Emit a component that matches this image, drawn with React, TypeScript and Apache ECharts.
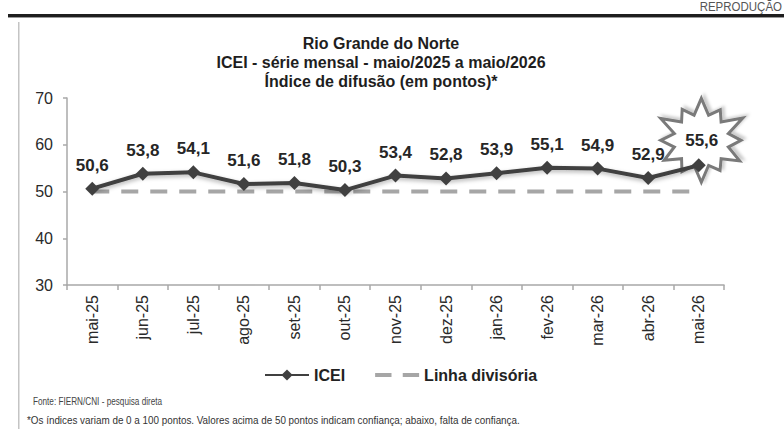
import React, { useEffect, useRef } from "react";
import * as echarts from "echarts";

const categories = ["mai-25", "jun-25", "jul-25", "ago-25", "set-25", "out-25", "nov-25", "dez-25", "jan-26", "fev-26", "mar-26", "abr-26", "mai-26"];
const iceiValues = [50.6, 53.8, 54.1, 51.6, 51.8, 50.3, 53.4, 52.8, 53.9, 55.1, 54.9, 52.9, 55.6];
const divisoriaValues = [50, 50, 50, 50, 50, 50, 50, 50, 50, 50, 50, 50, 50];
const yTicks = { min: 30, max: 70, interval: 10 };

const titleLines = [
  "Rio Grande do Norte",
  "ICEI - série mensal - maio/2025 a maio/2026",
  "Índice de difusão (em pontos)*",
];

const fmt = (v: number) => v.toFixed(1).replace(".", ",");

// starburst outline (decorative shape, unit box 0..100)
const starRadii = [1, 0.84, 1.06, 0.88, 0.98, 0.83, 1.0, 0.86, 0.95, 0.9, 1.04, 0.85];
function starPath(): string {
  const n = starRadii.length;
  const pts: string[] = [];
  for (let i = 0; i < n; i++) {
    const a0 = (-90 + (i * 360) / n) * (Math.PI / 180);
    const a1 = (-90 + ((i + 0.5) * 360) / n) * (Math.PI / 180);
    const ro = 50 * starRadii[i];
    const ri = 31;
    pts.push(`${(50 + ro * Math.cos(a0)).toFixed(2)} ${(50 + ro * Math.sin(a0)).toFixed(2)}`);
    pts.push(`${(50 + ri * Math.cos(a1)).toFixed(2)} ${(50 + ri * Math.sin(a1)).toFixed(2)}`);
  }
  return "path://M" + pts.join(" L") + " Z";
}

const SANS = "'Liberation Sans', Arial, sans-serif";

export default function App() {
  const ref = useRef<HTMLDivElement>(null);
  useEffect(() => {
    document.body.style.margin = "0";
    if (!ref.current) return;
    const chart = echarts.init(ref.current, undefined, { renderer: "svg" });
    const last = iceiValues.length - 1;
    chart.setOption({
      animation: false,
      backgroundColor: "#ffffff",
      grid: { left: 67, right: 60, top: 98, bottom: 144 },
      xAxis: {
        type: "category",
        data: categories,
        boundaryGap: true,
        axisLine: { lineStyle: { color: "#a8a8a8", width: 1.5 } },
        axisTick: { show: true, length: 5, lineStyle: { color: "#a8a8a8", width: 1.5 } },
        axisLabel: { rotate: 90, margin: 10, fontSize: 16, color: "#2a2a2a", fontFamily: SANS },
      },
      yAxis: {
        type: "value",
        min: yTicks.min,
        max: yTicks.max,
        interval: yTicks.interval,
        splitLine: { show: false },
        axisLine: { show: true, lineStyle: { color: "#a8a8a8", width: 1.5 } },
        axisTick: { show: true, length: 4, lineStyle: { color: "#a8a8a8", width: 1.5 } },
        axisLabel: { margin: 14, fontSize: 16, color: "#2a2a2a", fontFamily: SANS },
      },
      legend: {
        top: 362,
        left: 259,
        itemWidth: 44,
        itemHeight: 14,
        itemGap: 30,
        textStyle: { fontSize: 16, fontWeight: "bold", color: "#222", fontFamily: SANS },
        data: [
          { name: "ICEI" },
          {
            name: "Linha divisória",
            icon: "path://M0 0 H16 V4 H0 Z M27 0 H43 V4 H27 Z",
            itemStyle: { color: "#a6a6a6" },
          },
        ],
      },
      series: [
        {
          name: "Linha divisória",
          type: "line",
          data: divisoriaValues,
          symbol: "none",
          z: 1,
          lineStyle: { color: "#a6a6a6", width: 4, type: [17, 12] },
          itemStyle: { color: "#a6a6a6" },
        },
        {
          name: "ICEI",
          type: "line",
          z: 3,
          data: iceiValues.map((v, i) => (i === last ? { value: v, label: { show: false } } : v)),
          symbol: "diamond",
          symbolSize: 14,
          lineStyle: { color: "#404040", width: 4, shadowBlur: 4, shadowColor: "rgba(0,0,0,0.3)", shadowOffsetY: 2 },
          itemStyle: { color: "#404040" },
          label: {
            show: true,
            position: "top",
            distance: 8,
            fontSize: 17,
            fontWeight: "bold",
            color: "#262626",
            fontFamily: SANS,
            formatter: (p: any) => fmt(p.value),
          },
          markPoint: {
            z: 1,
            symbol: starPath(),
            symbolSize: [82, 84],
            symbolOffset: [3, -25],
            itemStyle: {
              color: "#ffffff",
              borderColor: "#7a7a7a",
              borderWidth: 3,
              shadowBlur: 3,
              shadowColor: "rgba(0,0,0,0.2)",
              shadowOffsetX: 3,
              shadowOffsetY: -2,
            },
            label: {
              show: true,
              fontSize: 17,
              fontWeight: "bold",
              color: "#262626",
              fontFamily: SANS,
              formatter: () => fmt(iceiValues[last]),
            },
            data: [{ coord: [categories[last], iceiValues[last]], value: iceiValues[last] }],
          },
        },
      ],
      graphic: [
        { type: "rect", shape: { x: 8, y: 14, width: 776, height: 3 }, style: { fill: "#1e1e1e" }, silent: true },
        { type: "rect", shape: { x: 8, y: 17, width: 776, height: 1 }, style: { fill: "#9a9a9a" }, silent: true },
        { type: "rect", shape: { x: 18, y: 22, width: 1.5, height: 407 }, style: { fill: "#c4c4c4" }, silent: true },
        {
          type: "text",
          x: 782,
          y: 7,
          scaleX: 0.92,
          style: { text: "REPRODUÇÃO", fontSize: 12.5, fontFamily: SANS, fill: "#555", textAlign: "right", textVerticalAlign: "middle" },
          silent: true,
        },
        ...titleLines.map((t, i) => ({
          type: "text",
          x: 381,
          y: 43 + i * 19,
          style: {
            text: t,
            fontSize: 16,
            fontWeight: "bold",
            fontFamily: SANS,
            fill: "#1e1e1e",
            textAlign: "center",
            textVerticalAlign: "middle",
          },
          silent: true,
        })),
        {
          type: "text",
          x: 33,
          y: 402,
          scaleX: 0.82,
          style: { text: "Fonte: FIERN/CNI - pesquisa direta", fontSize: 10, fontFamily: SANS, fill: "#444", textVerticalAlign: "middle" },
          silent: true,
        },
        {
          type: "text",
          x: 27,
          y: 420,
          scaleX: 0.94,
          style: {
            text: "*Os índices variam de 0 a 100 pontos. Valores acima de 50 pontos indicam confiança; abaixo, falta de confiança.",
            fontSize: 10.5,
            fontFamily: SANS,
            fill: "#333",
            textVerticalAlign: "middle",
          },
          silent: true,
        },
      ],
    });
    return () => chart.dispose();
  }, []);
  return <div ref={ref} style={{ width: 784, height: 429 }} />;
}
